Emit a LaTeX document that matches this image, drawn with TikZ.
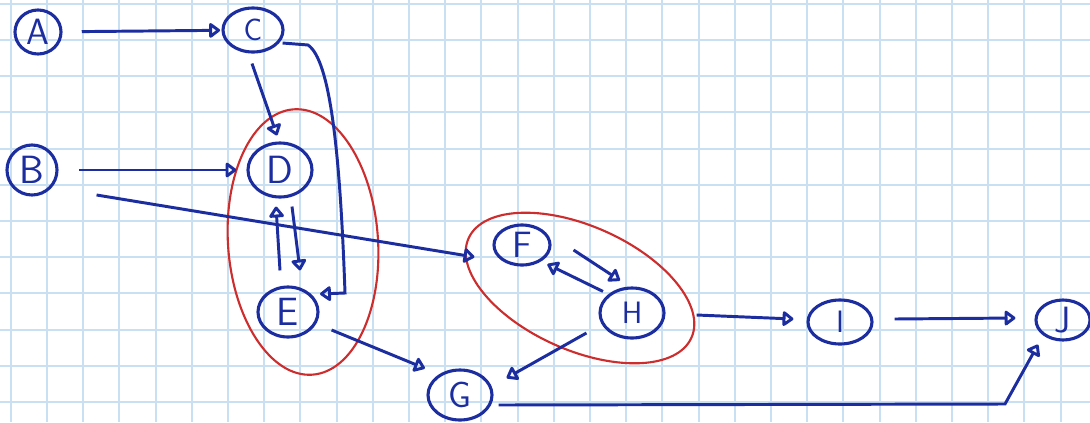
\documentclass[tikz,border=0pt]{standalone}
\usetikzlibrary{arrows.meta,shapes.geometric,calc}
\definecolor{ink}{RGB}{28,45,160}
\definecolor{redink}{RGB}{205,45,45}
\definecolor{gridblue}{RGB}{200,224,242}
\begin{document}
\begin{tikzpicture}[x=0.025cm,y=-0.025cm,
 nd/.style={draw=ink,text=ink,line width=2.2pt,ellipse,inner sep=0pt,font=\sffamily\fontsize{26}{28}\selectfont},
 arr/.style={draw=ink,line width=2.1pt,-{Triangle[open,round,length=3mm,width=4.2mm]}},
 loopring/.style={draw=redink,line width=1.5pt}]
\fill[white] (0,0) rectangle (1090,422);
\useasboundingbox (0,0) rectangle (1090,422);
\foreach \i in {0,...,29} {\draw[gridblue,line width=1.4pt] (10.8+36.2*\i,0) -- (10.8+36.2*\i,422);}
\foreach \j in {0,...,11} {\draw[gridblue,line width=1.4pt] (0,3.8+36.2*\j) -- (1090,3.8+36.2*\j);}

% red groupings
\draw[loopring, rotate around={4:(303,242)}] (303,242) ellipse [x radius=75, y radius=133];
\draw[loopring, rotate around={-24:(580,288)}] (580,288) ellipse [x radius=122, y radius=62];

% nodes
\node[nd, minimum width=1.15cm, minimum height=1.1cm] (A) at (38,32) {A};
\node[nd, minimum width=1.5cm, minimum height=1.1cm, font=\sffamily\fontsize{22}{24}\selectfont] (C) at (253,30) {C};
\node[nd, minimum width=1.25cm, minimum height=1.25cm, font=\sffamily\fontsize{28}{30}\selectfont] (B) at (32,170) {B};
\node[nd, minimum width=1.6cm, minimum height=1.35cm, font=\sffamily\fontsize{28}{30}\selectfont] (D) at (280,170) {D};
\node[nd, minimum width=1.5cm, minimum height=1.25cm, font=\sffamily\fontsize{28}{30}\selectfont] (E) at (288,312) {E};
\node[nd, minimum width=1.4cm, minimum height=1.0cm] (F) at (522,245) {F};
\node[nd, minimum width=1.6cm, minimum height=1.25cm, font=\sffamily\fontsize{22}{24}\selectfont] (H) at (632,313) {H};
\node[nd, minimum width=1.6cm, minimum height=1.25cm] (G) at (460,395) {G};
\node[nd, minimum width=1.6cm, minimum height=1.1cm, font=\sffamily\fontsize{22}{24}\selectfont] (I) at (840,322) {I};
\node[nd, minimum width=1.35cm, minimum height=1.0cm] (J) at (1063,320) {J};

\coordinate (ce1) at (308,45);
\coordinate (ce2) at (345,293);
\coordinate (gj1) at (1005,404);

% connectors
\draw[arr, shorten <=0.48cm, shorten >=1pt] (A) -- (C);
\draw[arr, shorten <=0.52cm, shorten >=0.25cm] (B) -- (D);
\draw[arr] ($(C.south)+(-1,10)$) -- ($(D.north)+(-3,-6)$);
\draw[arr] ($(C.east)+(-2,13)$) -- (ce1) .. controls (330,60) and (340,150) .. (ce2) -- ($(E.30)+(6,-3)$);
\draw[arr] ($(D.south)+(12,8)$) -- ($(E.north)+(12,-15)$);
\draw[arr] ($(E.north)+(-8,-15)$) -- ($(D.south)+(-4,8)$);
\draw[arr] ($(B.east)+(38,25)$) -- ($(F.west)+(-18,12)$);
\draw[arr] ($(E.east)+(12,18)$) -- ($(G.150)+(-8,-11)$);
\draw[arr] ($(F.east)+(22,5)$) -- ($(H.north)+(-12,-6)$);
\draw[arr] ($(H.north)+(-29,5)$) -- ($(F.-40)+(6,3)$);
\draw[arr] ($(H.west)+(-12,20)$) -- ($(G.east)+(13,-17)$);
\draw[arr] ($(H.east)+(31,2)$) -- ($(I.west)+(-13,-3)$);
\draw[arr] ($(I.east)+(21,-3)$) -- ($(J.west)+(-19,-2)$);
\draw[arr] ($(G.east)+(5,10)$) -- (gj1) -- ($(J.south)+(-25,3)$);
\end{tikzpicture}
\end{document}
